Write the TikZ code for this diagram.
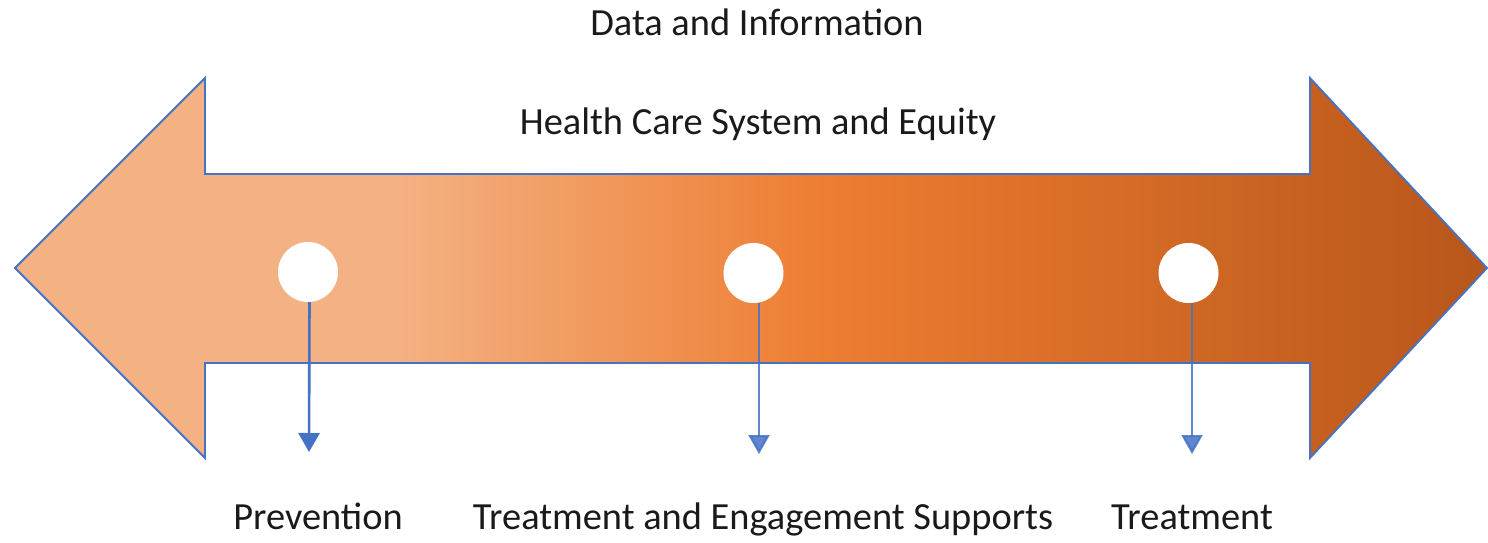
\documentclass[tikz,border=0pt]{standalone}
\usepackage{fontspec}
\setmainfont{Carlito}
\usetikzlibrary{arrows.meta}
\definecolor{lightor}{HTML}{F4B183}
\definecolor{midor}{HTML}{ED7D31}
\definecolor{darkor}{HTML}{B8561A}
\definecolor{edgeblue}{HTML}{4472C4}
\definecolor{txt}{HTML}{1A1A1A}
\pgfdeclarehorizontalshading{bandshade}{100bp}{color(0bp)=(lightor); color(38bp)=(lightor); color(52.5bp)=(midor); color(75bp)=(darkor); color(100bp)=(darkor)}
\tikzset{
  band/.style={draw=edgeblue, line width=1.8pt, shading=bandshade, line join=miter},
  dot/.style={circle, fill=white, draw=none, minimum size=60pt, inner sep=0pt},
  conn/.style={draw=edgeblue, line width=2.6pt, -{Triangle[width=21pt,length=19pt]}},
  lbl/.style={text=txt, font=\fontsize{38.4}{46}\selectfont, anchor=base, inner sep=0pt}
}
\begin{document}
\begin{tikzpicture}[x=1pt,y=-1pt]
\useasboundingbox (0,0) rectangle (1488,542);
\path[band] (15,268) -- (205,78) -- (205,174) -- (1310,174) -- (1310,78) -- (1487,268)
  -- (1310,458) -- (1310,363) -- (205,363) -- (205,458) -- cycle;
\node[dot] (c1) at (308,272) {};
\node[dot] (c2) at (753.5,273) {};
\node[dot] (c3) at (1188.5,273) {};
\coordinate (e1) at (309,452);
\coordinate (e2) at (759,454);
\coordinate (e3) at (1192,454);
\draw[conn] ([xshift=1.5pt]c1.south) -- (e1);
\draw[conn, opacity=0.85, line width=2.2pt] ([xshift=5.5pt]c2.south) -- (e2);
\draw[conn, opacity=0.85, line width=2.2pt] ([xshift=3.5pt]c3.south) -- (e3);
\node[lbl] (data) at (757,35) {Data and Information};
\node[lbl] (health) at (758,134) {Health Care System and Equity};
\node[lbl] (prev) at (318,529) {Prevention};
\node[lbl] (tes) at (763,529) {Treatment and Engagement Supports};
\node[lbl] (treat) at (1192,529) {Treatment};
\end{tikzpicture}
\end{document}
